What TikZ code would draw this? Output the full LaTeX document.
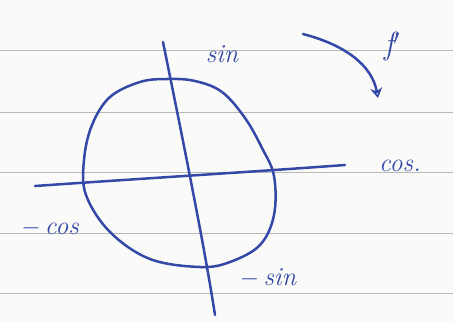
\documentclass[tikz,border=0pt]{standalone}
\usetikzlibrary{arrows.meta}
\definecolor{ink}{RGB}{52,72,168}
\definecolor{rule}{RGB}{185,185,185}
\definecolor{paper}{RGB}{250,250,248}
\begin{document}
\begin{tikzpicture}[x=1pt,y=-1pt,
  pen/.style={draw=ink,line width=2.5pt,line cap=round,line join=round},
  ruled/.style={draw=rule,line width=1pt},
  hand/.style={text=ink,font=\fontsize{26}{28}\selectfont\itshape,inner sep=0pt}]
\fill[paper] (0,0) rectangle (453,322);
\useasboundingbox (0,0) rectangle (453,322);
% ruled lines
\foreach \yy in {50,112,172,233,293}
  \draw[ruled] (0,\yy) -- (453,\yy);
% axes
\coordinate (vtop) at (163,42);
\coordinate (vbot) at (215,315);
\coordinate (hl) at (35,186);
\coordinate (hr) at (345,165);
\draw[pen] (vtop) .. controls (185,150) and (205,250) .. (vbot);
\draw[pen] (hl) .. controls (150,178) and (250,172) .. (hr);
% circle
\draw[pen] plot[smooth cycle,tension=0.6] coordinates {
  (167,79) (195,81) (222,92) (245,118) (262,148) (274,176)
  (274,215) (260,245) (230,262) (200,267) (150,259) (110,232) (86,195)
  (84,160) (92,125) (110,97) (140,82)};
% labels
\node[hand] (sin) at (222,54) {sin};
\node[hand] (cos) at (400,166) {cos.};
\node[hand] (mcos) at (50,228) {$-$\,cos};
\node[hand] (msin) at (268,278) {$-$\,sin};
\node[hand,font=\fontsize{32}{34}\selectfont\itshape] (fp) at (392,46) {f$'$};
% arrow
\coordinate (astart) at (303,34);
\coordinate (aend) at (378,98);
\draw[pen,-{Stealth[length=10pt,width=12pt,open]}] (astart) .. controls (345,45) and (372,65) .. (aend);
\end{tikzpicture}
\end{document}
